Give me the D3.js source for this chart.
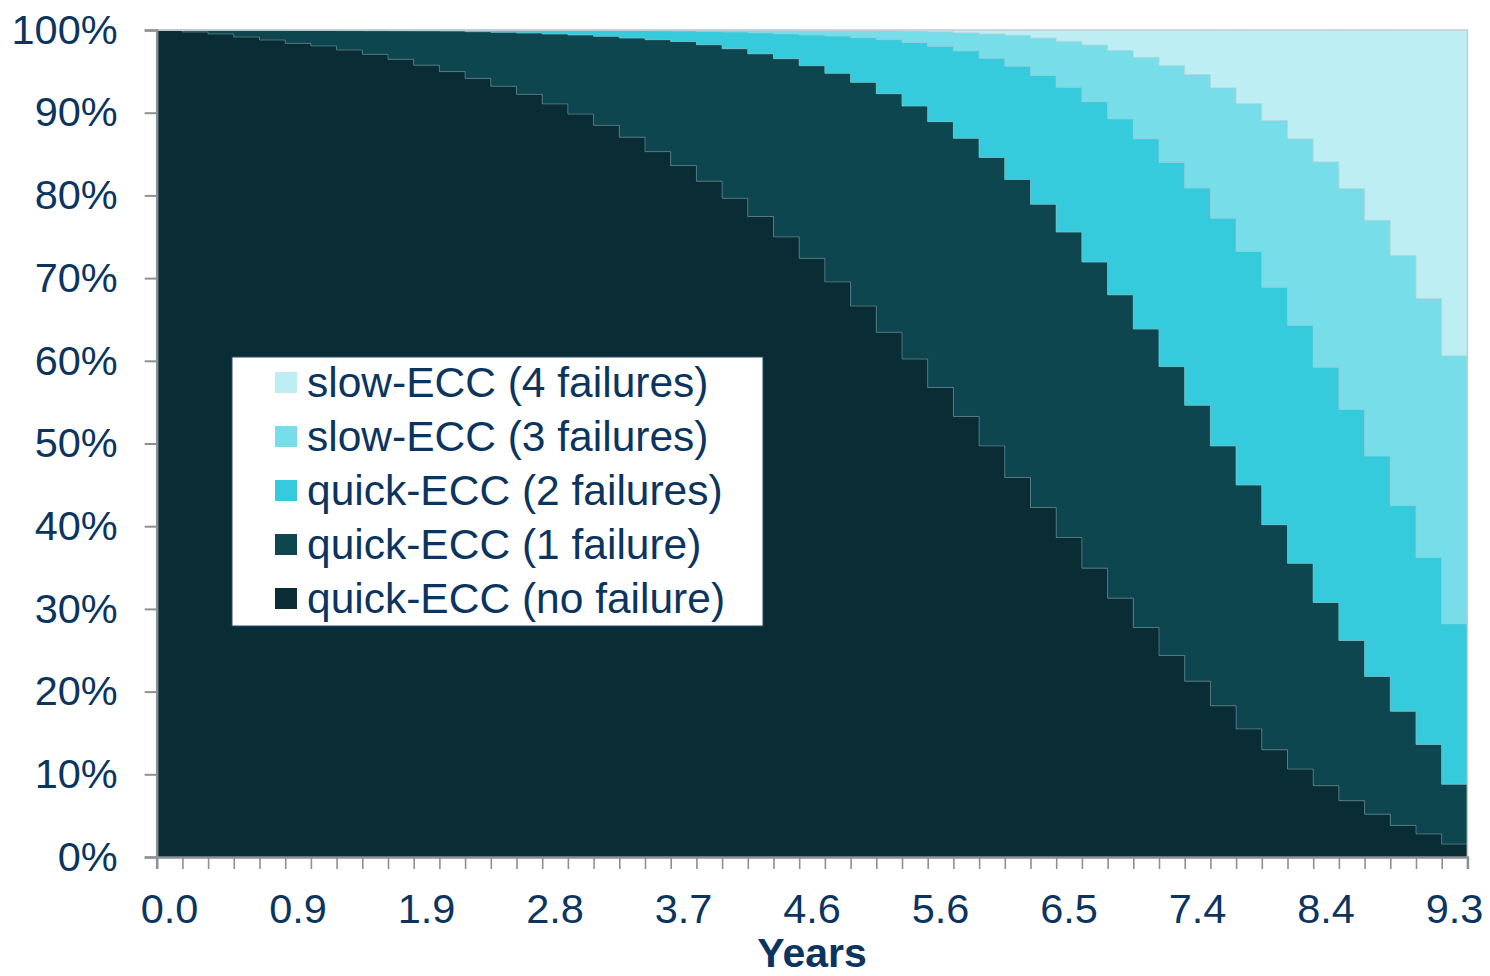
<!DOCTYPE html>
<html>
<head>
<meta charset="utf-8">
<script src="https://cdn.jsdelivr.net/npm/d3@7"></script>
<style>
  body { margin: 0; background: #fff; }
  svg { display: block; }
  text { font-family: "Liberation Sans", Arial, sans-serif; }
</style>
</head>
<body>
<svg id="chart" width="1490" height="976"></svg>
<script>
// Elapsed time in years for each step of the simulation
const years = ["0.0","0.2","0.4","0.6","0.7","0.9","1.1","1.3","1.5","1.7",
               "1.9","2.0","2.2","2.4","2.6","2.8","3.0","3.2","3.3","3.5",
               "3.7","3.9","4.1","4.3","4.5","4.6","4.8","5.0","5.2","5.4",
               "5.6","5.8","5.9","6.1","6.3","6.5","6.7","6.9","7.1","7.3",
               "7.4","7.6","7.8","8.0","8.2","8.4","8.6","8.7","8.9","9.1","9.3"];

// Years that carry a label on the x axis
const labelledYears = ["0.0","0.9","1.9","2.8","3.7","4.6","5.6","6.5","7.4","8.4","9.3"];

// Share of devices (%) in each state, per time step
const noFailure = [100.00, 99.76, 99.52, 99.15, 98.79, 98.39, 98.07, 97.58, 97.06, 96.46,
                   95.75, 94.97, 94.15, 93.20, 92.22, 91.06, 89.83, 88.47, 87.04, 85.29,
                   83.60, 81.72, 79.65, 77.45, 74.98, 72.39, 69.54, 66.62, 63.45, 60.21,
                   56.77, 53.27, 49.71, 45.88, 42.25, 38.63, 34.93, 31.30, 27.74, 24.37,
                   21.26, 18.28, 15.49, 12.96, 10.63, 8.62, 6.80, 5.18, 3.82, 2.79, 1.56];
const oneFailure = [0.00, 0.24, 0.46, 0.82, 1.17, 1.56, 1.87, 2.35, 2.86, 3.45,
                    4.15, 4.91, 5.65, 6.52, 7.42, 8.46, 9.57, 10.77, 11.99, 13.54,
                    15.00, 16.50, 18.09, 19.68, 21.55, 23.30, 25.22, 27.05, 28.85, 30.60,
                    32.15, 33.64, 34.87, 36.04, 36.69, 36.94, 37.01, 36.68, 36.10, 34.93,
                    33.37, 31.43, 29.49, 27.22, 24.89, 22.16, 19.38, 16.66, 13.81, 10.82, 7.25];
const twoFailures = [0.00, 0.00, 0.02, 0.03, 0.04, 0.05, 0.06, 0.07, 0.08, 0.09,
                     0.10, 0.11, 0.19, 0.26, 0.34, 0.45, 0.56, 0.71, 0.90, 1.08,
                     1.28, 1.61, 2.02, 2.51, 2.99, 3.71, 4.51, 5.40, 6.53, 7.66,
                     9.10, 10.55, 12.00, 13.71, 15.55, 17.50, 19.38, 21.26, 23.00, 24.69,
                     26.25, 27.54, 28.25, 28.71, 28.77, 28.45, 27.93, 26.64, 24.88, 22.62, 19.38];
const threeFailures = [0.00, 0.00, 0.00, 0.00, 0.00, 0.00, 0.00, 0.00, 0.00, 0.00,
                       0.00, 0.01, 0.01, 0.02, 0.02, 0.03, 0.04, 0.05, 0.07, 0.09,
                       0.12, 0.17, 0.24, 0.36, 0.48, 0.57, 0.68, 0.87, 1.09, 1.41,
                       1.76, 2.20, 2.94, 3.73, 4.54, 5.57, 6.86, 8.30, 9.85, 11.73,
                       13.74, 15.75, 17.89, 20.16, 22.55, 24.83, 26.71, 28.51, 30.21, 31.30, 32.41];
const fourFailures = [0.00, 0.00, 0.00, 0.00, 0.00, 0.00, 0.00, 0.00, 0.00, 0.00,
                      0.00, 0.00, 0.00, 0.00, 0.00, 0.00, 0.00, 0.00, 0.00, 0.00,
                      0.00, 0.00, 0.00, 0.00, 0.00, 0.03, 0.05, 0.06, 0.08, 0.12,
                      0.22, 0.34, 0.48, 0.64, 0.97, 1.36, 1.82, 2.46, 3.31, 4.28,
                      5.38, 7.00, 8.88, 10.95, 13.16, 15.94, 19.18, 23.01, 27.28, 32.47, 39.40];

// Series, bottom of the stack first
const seriesKeys = ["none", "one", "two", "three", "four"];
const seriesNames = ["quick-ECC (no failure)", "quick-ECC (1 failure)", "quick-ECC (2 failures)",
                     "slow-ECC (3 failures)", "slow-ECC (4 failures)"];
const seriesColors = ["#0a2d35", "#0e4650", "#36cbdc", "#77dde9", "#bdeef3"];

const yTicks = [0, 10, 20, 30, 40, 50, 60, 70, 80, 90, 100];

// ---- layout ----
const svg = d3.select("#chart");
const W = 1490, H = 976;
const plot = { left: 156.7, right: 1467.4, top: 30, bottom: 857 };
const textColor = "#0b355e";
const axisColor = "#8a9096";

svg.append("rect").attr("width", W).attr("height", H).attr("fill", "#fff");

// ---- data table ----
const rows = years.map((yr, i) => ({
  year: yr,
  none: noFailure[i], one: oneFailure[i], two: twoFailures[i],
  three: threeFailures[i], four: fourFailures[i]
}));
const stacked = d3.stack().keys(seriesKeys)(rows);

// ---- scales ----
const x = d3.scaleBand().domain(years).range([plot.left, plot.right]).padding(0);
const xEdges = d3.scaleLinear().domain([0, years.length]).range([plot.left, plot.right]);
const y = d3.scaleLinear().domain([0, 100]).range([plot.bottom, plot.top]);

// step outline: one flat segment across each time step
function stepPoints(layer) {
  const pts = layer.map((d, i) => ({ x: x(years[i]), y0: d[0], y1: d[1] }));
  const last = layer[layer.length - 1];
  pts.push({ x: x(years[years.length - 1]) + x.bandwidth(), y0: last[0], y1: last[1] });
  return pts;
}

const area = d3.area()
  .curve(d3.curveStepAfter)
  .x(d => d.x)
  .y0(d => y(d.y0))
  .y1(d => y(d.y1));

const topLine = d3.line()
  .curve(d3.curveStepAfter)
  .x(d => d.x)
  .y(d => y(d.y1));

const g = svg.append("g");
g.selectAll("path.layer")
  .data(stacked)
  .join("path")
  .attr("class", "layer")
  .attr("fill", (d, i) => seriesColors[i])
  .attr("stroke", (d, i) => seriesColors[i])
  .attr("stroke-width", 0.5)
  .attr("d", d => area(stepPoints(d)));

// faint edge along the top of each lower band
g.selectAll("path.edge")
  .data(stacked.slice(0, 4))
  .join("path")
  .attr("class", "edge")
  .attr("fill", "none")
  .attr("stroke", "rgba(170,190,195,0.4)")
  .attr("stroke-width", 1)
  .attr("d", d => topLine(stepPoints(d)));

// plot frame (top and right)
svg.append("path")
  .attr("fill", "none")
  .attr("stroke", "#c9cccf")
  .attr("stroke-width", 1.5)
  .attr("d", `M${plot.left},${y(100)}H${plot.right}V${y(0)}`);

// ---- y axis ----
const yAxis = svg.append("g")
  .attr("transform", `translate(${plot.left},0)`)
  .call(d3.axisLeft(y).tickValues(yTicks).tickSize(12).tickPadding(27)
        .tickFormat(d => d + "%"));
yAxis.select(".domain").attr("stroke", axisColor).attr("stroke-width", 2.5);
yAxis.selectAll(".tick line").attr("stroke", axisColor).attr("stroke-width", 2);
yAxis.selectAll(".tick text")
  .attr("fill", textColor).attr("font-size", 41.5)
  .attr("font-family", "'Liberation Sans', Arial, sans-serif");

// ---- x axis: tick marks at every step boundary ----
const xTicks = svg.append("g")
  .attr("transform", `translate(0,${plot.bottom})`)
  .call(d3.axisBottom(xEdges).tickValues(d3.range(years.length + 1)).tickSize(12)
        .tickFormat(""));
xTicks.select(".domain").attr("stroke", axisColor).attr("stroke-width", 2.5);
xTicks.selectAll(".tick line").attr("stroke", axisColor).attr("stroke-width", 1.6);

// ---- x axis: year labels ----
const xLabels = svg.append("g")
  .attr("transform", `translate(0,${plot.bottom})`)
  .call(d3.axisBottom(x).tickValues(labelledYears).tickSize(0).tickPadding(37));
xLabels.select(".domain").remove();
xLabels.selectAll(".tick text")
  .attr("fill", textColor).attr("font-size", 41.5)
  .attr("font-family", "'Liberation Sans', Arial, sans-serif");

svg.append("text")
  .attr("x", (plot.left + plot.right) / 2)
  .attr("y", 967)
  .attr("text-anchor", "middle")
  .attr("font-size", 41)
  .attr("font-weight", "bold")
  .attr("fill", textColor)
  .text("Years");

// ---- legend (top series first) ----
const legend = svg.append("g").attr("transform", "translate(232,357)");
legend.append("rect")
  .attr("width", 531).attr("height", 269)
  .attr("fill", "#fff")
  .attr("stroke", "#27476e").attr("stroke-width", 1);

const order = d3.range(seriesKeys.length).reverse();
const items = legend.selectAll("g.item")
  .data(order)
  .join("g")
  .attr("class", "item")
  .attr("transform", (d, i) => `translate(43,${15 + i * 54})`);
items.append("rect")
  .attr("width", 22).attr("height", 21)
  .attr("fill", d => seriesColors[d]);
items.append("text")
  .attr("x", 32).attr("y", 25)
  .attr("font-size", 42.5)
  .attr("fill", textColor)
  .text(d => seriesNames[d]);
</script>
</body>
</html>
